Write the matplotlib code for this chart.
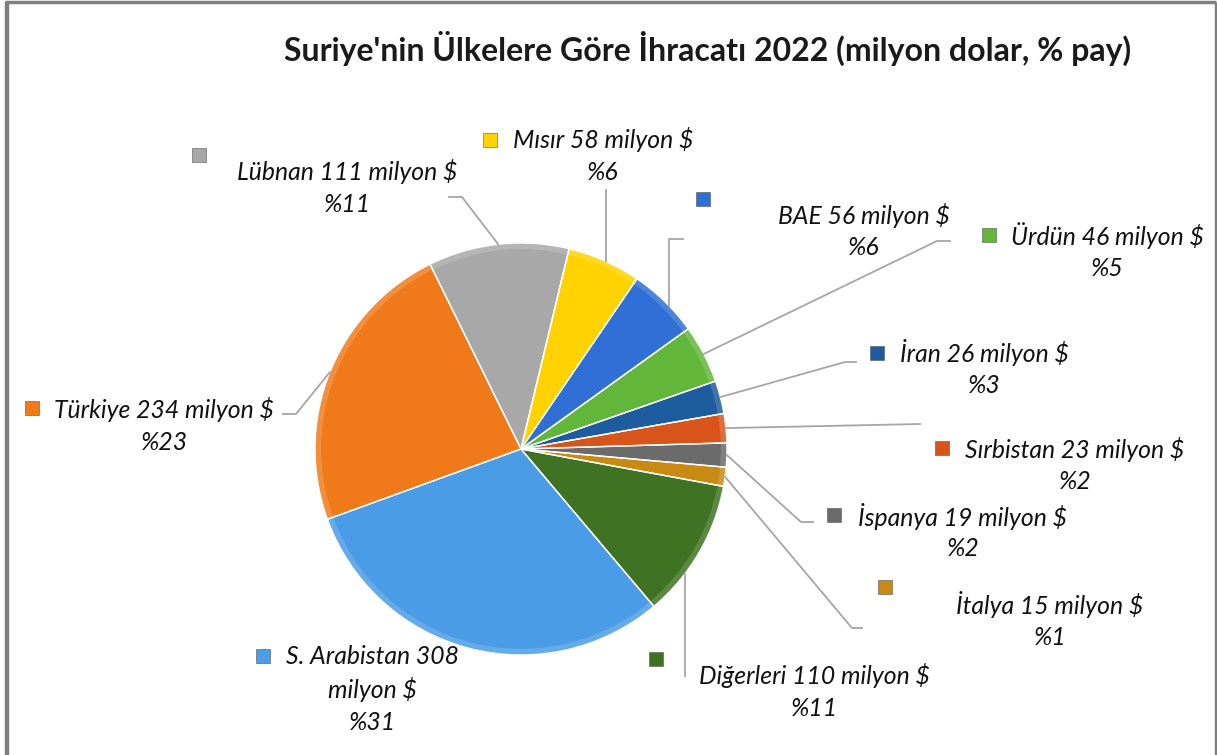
import numpy as np
import matplotlib

matplotlib.use("Agg")
import matplotlib.pyplot as plt
from matplotlib.colors import to_rgb

plt.rcParams["font.family"] = ["Lato", "DejaVu Sans"]

# data (clockwise order as drawn)
countries = ["Mısır", "BAE", "Ürdün", "İran", "Sırbistan", "İspanya", "İtalya",
             "Diğerleri", "S. Arabistan", "Türkiye", "Lübnan"]
values = [58, 56, 46, 26, 23, 19, 15, 110, 308, 234, 111]
shares = [6, 6, 5, 3, 2, 2, 1, 11, 31, 23, 11]
colors = ["#FFD200", "#2F6FD6", "#62B73A", "#1D5C9E", "#D9541A", "#6B6B6B",
          "#C88A12", "#3F7323", "#4A9CE6", "#F07A1A", "#A8A8A8"]

title = "Suriye'nin Ülkelere Göre İhracatı 2022 (milyon dolar, % pay)"

W, H = 1217, 755
cx, cy, R = 521, 449, 206
start = 76.5
pad = 1.01

fig = plt.figure(figsize=(W / 100, H / 100), dpi=100)
fig.patch.set_facecolor("white")

ax = fig.add_axes([(cx - R * pad) / W, (H - cy - R * pad) / H, 2 * R * pad / W, 2 * R * pad / H])
ax.pie(values, colors=colors, startangle=start, counterclock=False, radius=1,
       wedgeprops=dict(linewidth=0))
# soft bevel: slightly lighter rim on each slice
rim = [tuple(0.85 * np.array(to_rgb(c)) + 0.15) for c in colors]
ax.pie(values, colors=rim, startangle=start, counterclock=False, radius=1,
       wedgeprops=dict(width=0.03, linewidth=0))
# white slice borders on top
ax.pie(values, colors=["none"] * len(values), startangle=start, counterclock=False,
       radius=1, wedgeprops=dict(edgecolor="white", linewidth=1.0))
ax.set_xlim(-pad, pad)
ax.set_ylim(-pad, pad)
ax.set_aspect("equal")
ax.axis("off")

ov = fig.add_axes([0, 0, 1, 1], zorder=5)
ov.set_xlim(0, W)
ov.set_ylim(H, 0)
ov.axis("off")
ov.patch.set_alpha(0)

# frame
ov.plot([6.5, 6.5], [2, H], color="#808080", lw=3.2, solid_capstyle="butt")
ov.plot([5, 1215.5], [2, 2], color="#808080", lw=2.5, solid_capstyle="butt")
ov.plot([1215.5, 1215.5], [2, H], color="#808080", lw=2.5, solid_capstyle="butt")

ov.text(708, 48, title, ha="center", va="center", fontsize=23, fontweight="bold", color="#1a1a1a")

# slice mid angles -> pie edge points in pixels
cum = np.cumsum([0] + values[:-1])
tot = sum(values)
mids = start - (cum + np.array(values) / 2) / tot * 360


def edge(i, r=1.0):
    a = np.deg2rad(mids[i])
    return cx + R * r * np.cos(a), cy - R * r * np.sin(a)


# label layout: marker pos, first text line centre, leader path after the edge point
layout = {
    "Lübnan": dict(m=(199, 155), t=(347, 172), lead=[(462, 197), (449, 197)]),
    "Mısır": dict(m=(490, 140), t=(603, 140), lead=[(606, 190)], vert=True),
    "BAE": dict(m=(703, 199), t=(864, 215), lead=[(669, 239), (683, 239)], vert=True),
    "Ürdün": dict(m=(989, 235), t=(1107, 236), lead=[(937, 241), (950, 241)]),
    "İran": dict(m=(877, 353), t=(984, 353), lead=[(845, 362), (856, 362)]),
    "Sırbistan": dict(m=(942, 448), t=(1075, 449), lead=[(920, 424)]),
    "İspanya": dict(m=(834, 515), t=(963, 516), lead=[(801, 522), (813, 522)]),
    "İtalya": dict(m=(885, 587), t=(1050, 605), lead=[(852, 628), (862, 628)]),
    "Diğerleri": dict(m=(656, 659), t=(814, 676), lead=[(685, 676)], vert=True),
    "S. Arabistan": dict(m=(263, 656), t=(372, 657), lead=None),
    "Türkiye": dict(m=(32, 408), t=(164, 410), lead=[(296, 414), (283, 414)]),
}

lh = 32.5
for i, name in enumerate(countries):
    L = layout[name]
    mx, my = L["m"]
    ov.scatter([mx], [my], marker="s", s=110, color=colors[i], edgecolor="#555555",
               linewidth=0.4, zorder=6)
    tx, ty = L["t"]
    if name == "S. Arabistan":
        lines = [f"{name} {values[i]}", "milyon $", f"%{shares[i]}"]
    else:
        lines = [f"{name} {values[i]} milyon $", f"%{shares[i]}"]
    for k, s in enumerate(lines):
        ov.text(tx, ty + k * lh, s, ha="center", va="center", fontsize=17.8,
                style="italic", color="#111111")
    if L["lead"]:
        if L.get("vert"):
            x0 = L["lead"][0][0]
            # hit the circle vertically at x0
            dy = np.sqrt(max(R ** 2 - (x0 - cx) ** 2, 0))
            a = np.deg2rad(mids[i])
            y0 = cy - dy if np.sin(a) > 0 else cy + dy
            p0 = (x0, y0)
        else:
            p0 = edge(i)
        pts = [p0] + L["lead"]
        ov.plot([p[0] for p in pts], [p[1] for p in pts], color="#A6A6A6", lw=1.3, zorder=4)

fig.savefig("out.png", dpi=100, facecolor="white")
